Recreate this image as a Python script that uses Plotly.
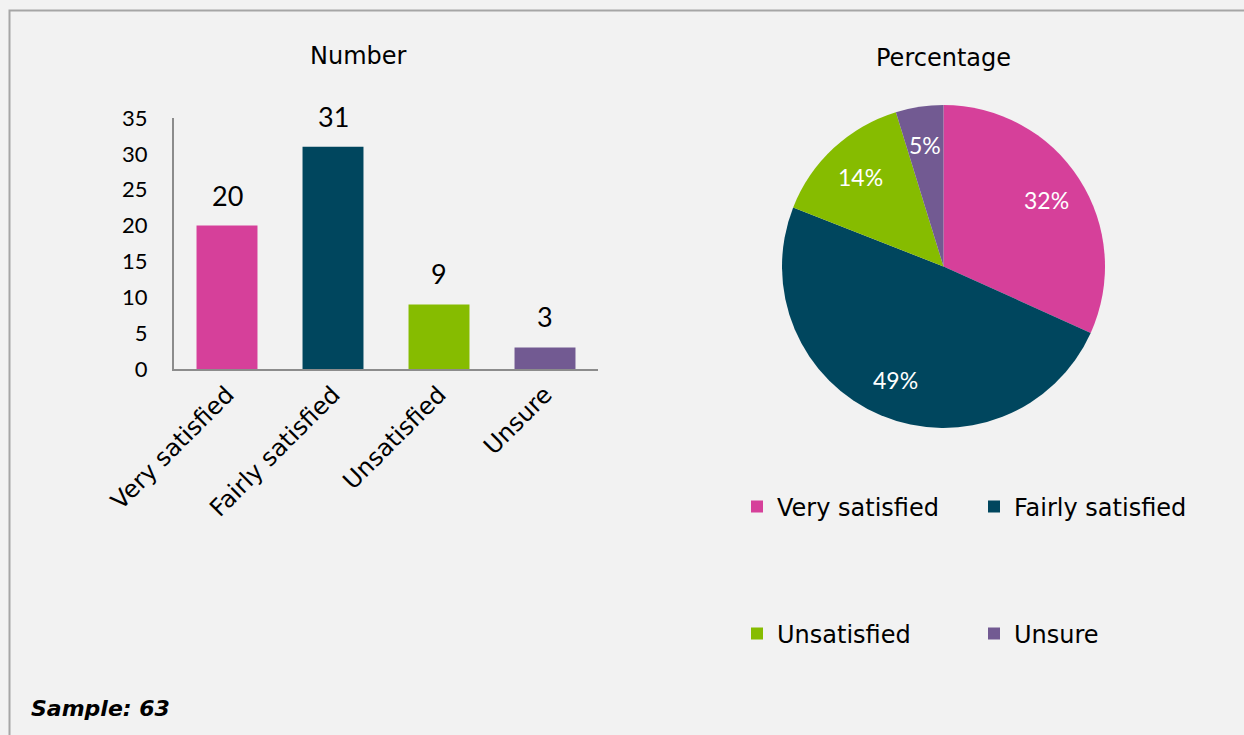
import math
import plotly.graph_objects as go

# Survey results: satisfaction with the service
categories = ["Very satisfied", "Fairly satisfied", "Unsatisfied", "Unsure"]
counts = [20, 31, 9, 3]
colors = ["#D6409A", "#00465E", "#86BC00", "#725A92"]
y_ticks = [0, 5, 10, 15, 20, 25, 30, 35]
sample_label = "Sample: 63"

W, H = 1244, 735


def px_x(p):
    return p / W


def px_y(p):
    return 1 - p / H


SANS = "DejaVu Sans"
NUM = "Lato, 'Open Sans', sans-serif"

# Pie placement (pixels)
PIE_L, PIE_R, PIE_T, PIE_B = 782, 1105, 105, 428
PIE_CX, PIE_CY = (PIE_L + PIE_R) / 2, (PIE_T + PIE_B) / 2
PIE_RAD = (PIE_R - PIE_L) / 2
LABEL_FRAC = 0.76

fig = go.Figure()

# One bar trace per category so the legend can be split over two rows
for i, (cat, val, col) in enumerate(zip(categories, counts, colors)):
    fig.add_trace(go.Bar(
        x=[cat], y=[val], name=cat,
        marker=dict(color=col, line=dict(width=0)),
        legend="legend" if i < 2 else "legend2",
        hoverinfo="x+y",
    ))
    fig.add_annotation(
        x=cat, y=val, xref="x", yref="y", text=str(val),
        showarrow=False, yanchor="bottom", yshift=12,
        font=dict(family=NUM, size=27, color="#000000"),
    )

fig.add_trace(go.Pie(
    labels=categories, values=counts, sort=False,
    direction="clockwise", rotation=0,
    marker=dict(colors=colors, line=dict(width=0)),
    textinfo="none", hoverinfo="label+value+percent",
    showlegend=False,
    domain=dict(x=[px_x(PIE_L), px_x(PIE_R)], y=[px_y(PIE_B), px_y(PIE_T)]),
))

# Percentage labels placed on each slice's middle angle
total = sum(counts)
cum = 0
for val in counts:
    mid = (cum + val / 2) / total * 2 * math.pi
    cum += val
    lx = PIE_CX + LABEL_FRAC * PIE_RAD * math.sin(mid)
    ly = PIE_CY - LABEL_FRAC * PIE_RAD * math.cos(mid)
    fig.add_annotation(
        x=px_x(lx), y=px_y(ly), xref="paper", yref="paper",
        text=f"{round(100 * val / total)}%", showarrow=False,
        xanchor="center", yanchor="middle",
        font=dict(family=NUM, size=23, color="#FFFFFF"),
    )

legend_style = dict(
    orientation="h", xanchor="left", yanchor="middle",
    font=dict(family=SANS, size=24, color="#000000"),
    bgcolor="rgba(0,0,0,0)", entrywidth=192, entrywidthmode="pixels",
)

fig.update_layout(
    width=W, height=H,
    margin=dict(l=0, r=0, t=0, b=0, autoexpand=False),
    paper_bgcolor="#F2F2F2", plot_bgcolor="#F2F2F2",
    barmode="overlay", bargap=0.425,
    xaxis=dict(
        domain=[px_x(174), px_x(598)], automargin=False,
        showline=True, linecolor="#8C8C8C", linewidth=2,
        showgrid=False, ticks="", tickangle=-45,
        tickfont=dict(family=SANS, size=24, color="#000000"),
    ),
    yaxis=dict(
        domain=[px_y(369), px_y(118)], range=[0, 35], automargin=False,
        tickvals=y_ticks, showline=True, linecolor="#8C8C8C", linewidth=2,
        showgrid=False, zeroline=False, ticks="", ticklabelstandoff=20,
        tickfont=dict(family=NUM, size=22, color="#000000"),
    ),
    legend=dict(x=px_x(737), y=px_y(507), **legend_style),
    legend2=dict(x=px_x(737), y=px_y(634), **legend_style),
)

# Panel titles and footnote
fig.add_annotation(x=px_x(358), y=px_y(56), xref="paper", yref="paper",
                   text="Number", showarrow=False, xanchor="center", yanchor="middle",
                   font=dict(family=SANS, size=24, color="#000000"))
fig.add_annotation(x=px_x(943), y=px_y(58), xref="paper", yref="paper",
                   text="Percentage", showarrow=False, xanchor="center", yanchor="middle",
                   font=dict(family=SANS, size=24, color="#000000"))
fig.add_annotation(x=px_x(29), y=px_y(708), xref="paper", yref="paper",
                   text="<b><i>" + sample_label + "</i></b>", showarrow=False,
                   xanchor="left", yanchor="middle",
                   font=dict(family=SANS, size=22, color="#000000"))

# Frame around the whole chart
fig.add_shape(type="rect", xref="paper", yref="paper",
              x0=px_x(9.5), x1=px_x(1260), y0=px_y(750), y1=px_y(10.5),
              line=dict(color="#A6A6A6", width=2), layer="above")

fig.write_html("out.html")
